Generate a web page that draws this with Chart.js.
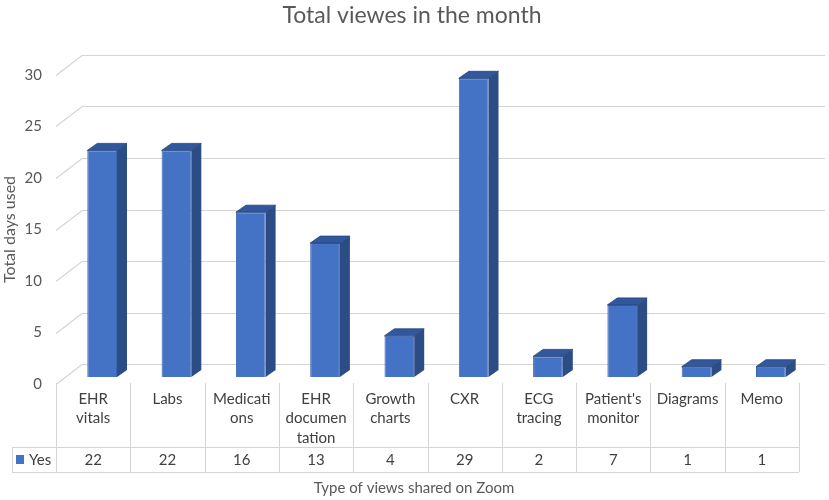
<!DOCTYPE html>
<html>
<head>
<meta charset="utf-8">
<title>Total viewes in the month</title>
<script src="https://cdn.jsdelivr.net/npm/chart.js@4.4.1/dist/chart.umd.min.js"></script>
<style>
  html, body { margin: 0; padding: 0; background: #fff; }
  #wrap { width: 829px; height: 500px; }
</style>
</head>
<body>
<div id="wrap"><canvas id="chart" width="829" height="500"></canvas></div>
<script>
// Data
const categories = [
    ['EHR', 'vitals'], ['Labs'], ['Medicati', 'ons'], ['EHR', 'documen', 'tation'],
    ['Growth', 'charts'], ['CXR'], ['ECG', 'tracing'], ["Patient's", 'monitor'],
    ['Diagrams'], ['Memo']
];
const yesValues = [22, 22, 16, 13, 4, 29, 2, 7, 1, 1];
const seriesName = 'Yes';
const yMin = 0;
const yMax = 30;
const yStep = 5;

const FONT = 'Lato, "Open Sans", sans-serif';
const TEXT = '#595959';
const GRID = '#d4d4d4';

// 3D look: back wall offset and bar depth
const WALL_DX = 26, WALL_DY = -20;
const BAR_DX = 9, BAR_DY = -7;
const DEPTH_X = 10, DEPTH_Y = -7;

const threeD = {
    id: 'threeD',
    beforeDatasetsDraw(chart) {
        const { ctx, chartArea, scales } = chart;
        const y = scales.y;
        ctx.save();
        ctx.strokeStyle = GRID;
        ctx.lineWidth = 1.2;
        y.ticks.forEach(t => {
            const py = Math.round(y.getPixelForValue(t.value)) + 0.5;
            ctx.beginPath();
            ctx.moveTo(chartArea.left, py);
            ctx.lineTo(chartArea.left + WALL_DX, py + WALL_DY);
            ctx.lineTo(chartArea.right + WALL_DX, py + WALL_DY);
            ctx.stroke();
        });
        ctx.restore();
        // bars sit a bit behind the front plane
        ctx.save();
        ctx.translate(BAR_DX, BAR_DY);
    },
    afterDatasetsDraw(chart) {
        const { ctx } = chart;
        const meta = chart.getDatasetMeta(0);
        meta.data.forEach(bar => {
            const { x, y, base, width } = bar.getProps(['x', 'y', 'base', 'width'], true);
            const l = x - width / 2, r = x + width / 2;
            // side face
            ctx.fillStyle = '#2c4c86';
            ctx.beginPath();
            ctx.moveTo(r, y);
            ctx.lineTo(r + DEPTH_X, y + DEPTH_Y);
            ctx.lineTo(r + DEPTH_X, base + DEPTH_Y);
            ctx.lineTo(r, base);
            ctx.closePath();
            ctx.fill();
            // top face
            ctx.fillStyle = '#31589e';
            ctx.beginPath();
            ctx.moveTo(l, y);
            ctx.lineTo(l + DEPTH_X, y + DEPTH_Y);
            ctx.lineTo(r + DEPTH_X, y + DEPTH_Y);
            ctx.lineTo(r, y);
            ctx.closePath();
            ctx.fill();
            ctx.strokeStyle = '#244276';
            ctx.lineWidth = 0.8;
            ctx.stroke();
        });
        ctx.restore();
    },
    afterDraw(chart) {
        const { ctx, chartArea, scales } = chart;
        const x = scales.x;
        const n = categories.length;
        const colW = (chartArea.right - chartArea.left) / n;
        const top = chartArea.bottom - 1;
        const rowTop = 447, rowBottom = 472, headLeft = 12;

        ctx.save();
        // chart title
        ctx.fillStyle = TEXT;
        ctx.font = '23px ' + FONT;
        ctx.textAlign = 'center';
        ctx.textBaseline = 'alphabetic';
        ctx.fillText('Total viewes in the month', 412, 23);

        ctx.strokeStyle = GRID;
        ctx.lineWidth = 1;
        ctx.beginPath();
        for (let i = 0; i <= n; i++) {
            const px = Math.round(chartArea.left + i * colW) + 0.5;
            ctx.moveTo(px, top);
            ctx.lineTo(px, rowBottom);
        }
        ctx.moveTo(headLeft + 0.5, rowTop);
        ctx.lineTo(headLeft + 0.5, rowBottom);
        ctx.moveTo(headLeft, rowTop + 0.5);
        ctx.lineTo(chartArea.right, rowTop + 0.5);
        ctx.moveTo(headLeft, rowBottom + 0.5);
        ctx.lineTo(chartArea.right, rowBottom + 0.5);
        ctx.stroke();

        ctx.fillStyle = '#404040';
        ctx.font = '15px ' + FONT;
        ctx.textBaseline = 'middle';
        categories.forEach((lines, i) => {
            const cx = x.getPixelForValue(i);
            lines.forEach((line, k) => ctx.fillText(line, cx, 399 + k * 19.5));
            ctx.fillText(String(yesValues[i]), cx, 460);
        });

        // legend key inside the table
        ctx.fillStyle = '#4472c4';
        ctx.fillRect(16, 455, 8, 9);
        ctx.fillStyle = '#404040';
        ctx.textAlign = 'left';
        ctx.fillText(seriesName, 29, 460);

        // x axis title
        ctx.fillStyle = TEXT;
        ctx.font = '15px ' + FONT;
        ctx.textAlign = 'center';
        ctx.fillText('Type of views shared on Zoom', 414, 488);
        ctx.restore();
    }
};

new Chart(document.getElementById('chart'), {
    type: 'bar',
    data: {
        labels: categories,
        datasets: [{
            label: seriesName,
            data: yesValues,
            backgroundColor: '#4472c4',
            borderColor: '#3a66b8',
            borderWidth: 1,
            categoryPercentage: 1,
            barPercentage: 0.4,
            clip: false
        }]
    },
    options: {
        responsive: false,
        animation: false,
        devicePixelRatio: 1,
        layout: { padding: { left: 0, right: 30, top: 75, bottom: 116 } },
        plugins: {
            legend: { display: false },
            tooltip: { enabled: false },
            title: { display: false }
        },
        scales: {
            x: { display: false },
            y: {
                min: yMin,
                max: yMax,
                ticks: {
                    stepSize: yStep,
                    color: TEXT,
                    padding: 14,
                    font: { family: FONT, size: 15 }
                },
                grid: { display: false, drawTicks: false },
                border: { display: false },
                title: {
                    display: true,
                    text: 'Total days used',
                    color: TEXT,
                    font: { family: FONT, size: 16 },
                    padding: { top: 0, bottom: 0 }
                },
                afterFit(scale) { scale.width = 56; }
            }
        }
    },
    plugins: [threeD]
});
</script>
</body>
</html>
